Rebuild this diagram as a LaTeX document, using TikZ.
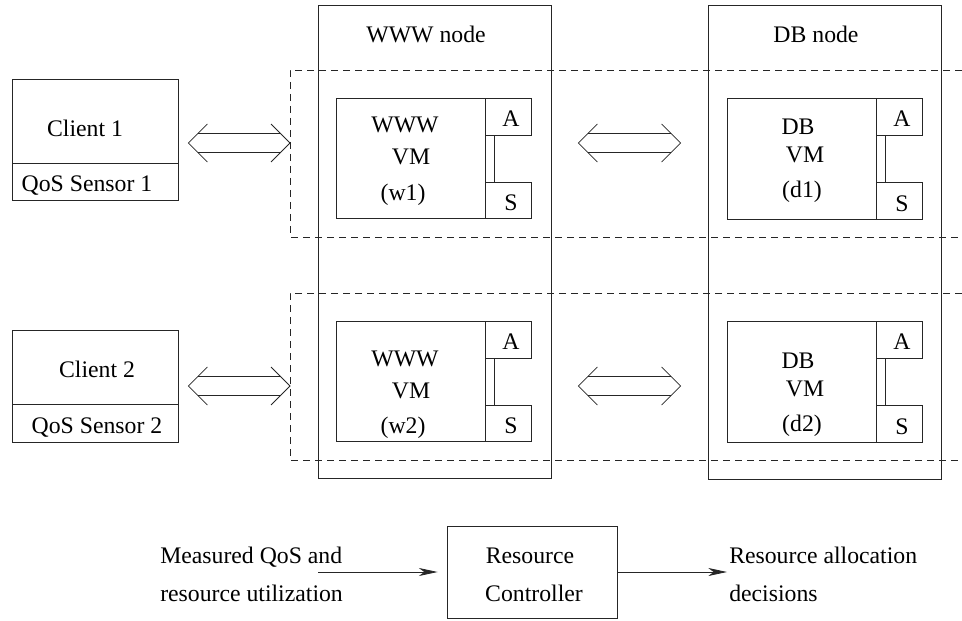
\documentclass[tikz,border=0pt]{standalone}
\usepackage{fontspec}
\setmainfont{Liberation Serif}
\usetikzlibrary{arrows.meta,calc,fit}

\tikzset{
  box/.style={draw=black!85, line width=0.6pt, inner sep=0pt},
  thin/.style={draw=black!85, line width=0.6pt},
  rowline/.style={thin, dash pattern=on 5pt off 4pt},
  lbl/.style={inner sep=0pt, anchor=base, font=\fontsize{17.8}{21}\selectfont},
  lbll/.style={lbl, anchor=base west},
  feed/.style={thin, -{Stealth[length=14pt,width=6pt,inset=4pt]}},
}

% open double-lined arrow between two tips
\newcommand{\hollowarrow}[2]{%
  \draw[thin] ($(#1)+(10,-9.5)$) -- ($(#2)+(-10,-9.5)$);
  \draw[thin] ($(#1)+(10,9.5)$) -- ($(#2)+(-10,9.5)$);
  \draw[thin] ($(#1)+(19,-19)$) -- (#1) -- ($(#1)+(19,19)$);
  \draw[thin] ($(#2)+(-19,-19)$) -- (#2) -- ($(#2)+(-19,19)$);
}

\begin{document}
\begin{tikzpicture}[x=0.75pt,y=0.75pt,yscale=-1]
\useasboundingbox (0,0) rectangle (962,620);

%Hosts
\node[box, fit={(318,5) (551,478)}] (wwwhost) {};
\node[box, fit={(708,5) (941,479)}] (dbhost) {};
\node[lbl] (wwwtitle) at (426,43) {WWW node};
\node[lbl] (dbtitle) at (816,43) {DB node};

%Dashed rows
\draw[rowline] (962,70) -- (290,70) -- (290,237) -- (962,237);
\draw[rowline] (962,293) -- (290,293) -- (290,460) -- (962,460);
\coordinate (row1) at (290,143);
\coordinate (row2) at (290,386);

%Clients
\node[box, fit={(12,79) (178,200)}] (client1) {};
\draw[thin] (12,163) -- (178,163);
\node[lbl] (client1t) at (85,137) {Client 1};
\node[lbl] (sensor1) at (87,192) {QoS Sensor 1};
\node[box, fit={(12,330) (178,442)}] (client2) {};
\draw[thin] (12,404) -- (178,404);
\node[lbl] (client2t) at (97,377) {Client 2};
\node[lbl] (sensor2) at (97,433) {QoS Sensor 2};

%Virtual machines
\foreach \i/\dy/\dd in {1/0/0, 2/223/233}{
  \node[box, fit={(336,98+\dy) (485,218+\dy)}] (wvm\i) {};
  \node[box, fit={(485,98+\dy) (531,135+\dy)}] (wa\i) {};
  \node[box, fit={(485,182+\dy) (531,218+\dy)}] (ws\i) {};
  \draw[thin] ($(wa\i.south west)+(10,0)$) -- ($(ws\i.north west)+(10,0)$);
  \node[lbl] (wat\i) at ($(wa\i.south)+(3,-9)$) {A};
  \node[lbl] (wst\i) at ($(ws\i.south)+(3,-8)$) {S};
  \node[lbl] (wname\i) at (405,133+\dd) {WWW};
  \node[lbl] (wvmt\i) at (411,165+\dd) {VM};
  \node[lbl] (wid\i) at (403,200+\dd) {(w\i)};
  %
  \node[box, fit={(727,98+\dy) (876,219+\dy)}] (dvm\i) {};
  \node[box, fit={(876,98+\dy) (922,135+\dy)}] (da\i) {};
  \node[box, fit={(876,182+\dy) (922,219+\dy)}] (ds\i) {};
  \draw[thin] ($(da\i.south west)+(10,0)$) -- ($(ds\i.north west)+(10,0)$);
  \node[lbl] (dat\i) at ($(da\i.south)+(3,-9)$) {A};
  \node[lbl] (dst\i) at ($(ds\i.south)+(3,-8)$) {S};
  \node[lbl] (dname\i) at (798,135+\dd) {DB};
  \node[lbl] (dvmt\i) at (805,163+\dd) {VM};
  \node[lbl] (did\i) at (802,198+\dd) {(d\i)};
}

%Double arrows
\coordinate (c1tip) at ($(client1.east |- row1)+(10,0)$);
\coordinate (w1tip) at ($(wwwhost.east |- row1)+(27,0)$);
\coordinate (d1tip) at ($(dbhost.west |- row1)+(-27,0)$);
\hollowarrow{c1tip}{row1}
\hollowarrow{w1tip}{d1tip}
\coordinate (c2tip) at ($(client2.east |- row2)+(10,0)$);
\coordinate (w2tip) at ($(wwwhost.east |- row2)+(27,0)$);
\coordinate (d2tip) at ($(dbhost.west |- row2)+(-27,0)$);
\hollowarrow{c2tip}{row2}
\hollowarrow{w2tip}{d2tip}

%Resource controller
\node[box, fit={(447,526) (617,618)}] (ctrl) {};
\node[lbl] (ctrlt1) at (530,563) {Resource};
\node[lbl] (ctrlt2) at (534,601) {Controller};
\node[lbll] (in1) at (160,563) {Measured QoS and};
\node[lbll] (in2) at (160,601) {resource utilization};
\node[lbll] (out1) at (729,563) {Resource allocation};
\node[lbll] (out2) at (729,601) {decisions};
\coordinate (inarrow) at (318,572);
\coordinate (outarrow) at (727,572);
\draw[feed, shorten >=6.75pt] (inarrow) -- (inarrow -| ctrl.west);
\draw[feed] (ctrl.east |- outarrow) -- (outarrow);

\end{tikzpicture}
\end{document}
